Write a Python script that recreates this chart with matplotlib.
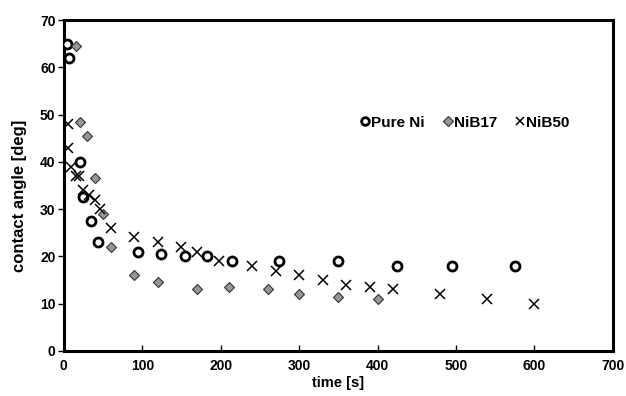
import matplotlib
matplotlib.use("Agg")
import matplotlib.pyplot as plt

plt.rcParams['font.family'] = ['Liberation Sans', 'DejaVu Sans']

# Data
ni_t = [4, 7, 20, 25, 34, 43, 94, 124, 154, 183, 214, 274, 350, 425, 495, 575]
ni_v = [65, 62, 40, 32.5, 27.5, 23, 21, 20.5, 20, 20, 19, 19, 19, 18, 18, 18]

b17_t = [16, 20, 29, 40, 50, 60, 90, 120, 170, 210, 260, 300, 350, 400]
b17_v = [64.5, 48.5, 45.5, 36.5, 29, 22, 16, 14.5, 13, 13.5, 13, 12, 11.5, 11]

b50_t = [5, 5, 9, 16, 19, 25, 32, 40, 46, 60, 90, 120, 150, 170, 198, 240, 270, 300, 330, 360, 390, 420, 480, 540, 600]
b50_v = [48, 43, 39, 37, 37, 34, 33, 32, 30, 26, 24, 23, 22, 21, 19, 18, 17, 16, 15, 14, 13.5, 13, 12, 11, 10]

x_ticks = [0, 100, 200, 300, 400, 500, 600, 700]
y_ticks = [0, 10, 20, 30, 40, 50, 60, 70]

fig = plt.figure(figsize=(6.26, 3.96), dpi=100)
ax = fig.add_axes([0.102, 0.114, 0.877, 0.835])

ax.plot(ni_t, ni_v, linestyle='none', marker='o', markersize=6.5, markerfacecolor='white',
        markeredgecolor='black', markeredgewidth=2.0, label='Pure Ni', zorder=3)
ax.plot(b17_t, b17_v, linestyle='none', marker='D', markersize=5.5, markerfacecolor='#969696',
        markeredgecolor='#333333', markeredgewidth=0.8, label='NiB17', zorder=3)
ax.plot(b50_t, b50_v, linestyle='none', marker='x', markersize=6.5, color='black',
        markeredgewidth=1.1, label='NiB50', zorder=3)

ax.set_xlim(0, 700)
ax.set_ylim(0, 70)
ax.set_xticks(x_ticks)
ax.set_yticks(y_ticks)
ax.set_xticklabels([str(v) for v in x_ticks], fontsize=10, fontweight='bold')
ax.set_yticklabels([str(v) for v in y_ticks], fontsize=10, fontweight='bold')
ax.tick_params(axis='x', direction='in', length=4, width=1, pad=6)
ax.tick_params(axis='y', direction='out', length=4, width=1, pad=2)

for s in ax.spines.values():
    s.set_linewidth(2.2)
    s.set_color('black')

ax.set_xlabel('time [s]', fontsize=10.5, fontweight='bold', labelpad=2)
ax.set_ylabel('contact angle [deg]', fontsize=12, fontweight='bold')
ax.yaxis.set_label_coords(-0.068, 0.468)

leg = ax.legend(loc='center', bbox_to_anchor=(0.731, 0.69), ncol=3, frameon=False,
                prop={'weight': 'bold', 'size': 11}, handlelength=0.6, handletextpad=0.1,
                columnspacing=1.2, markerscale=0.85)

fig.savefig('out.png', dpi=100)
